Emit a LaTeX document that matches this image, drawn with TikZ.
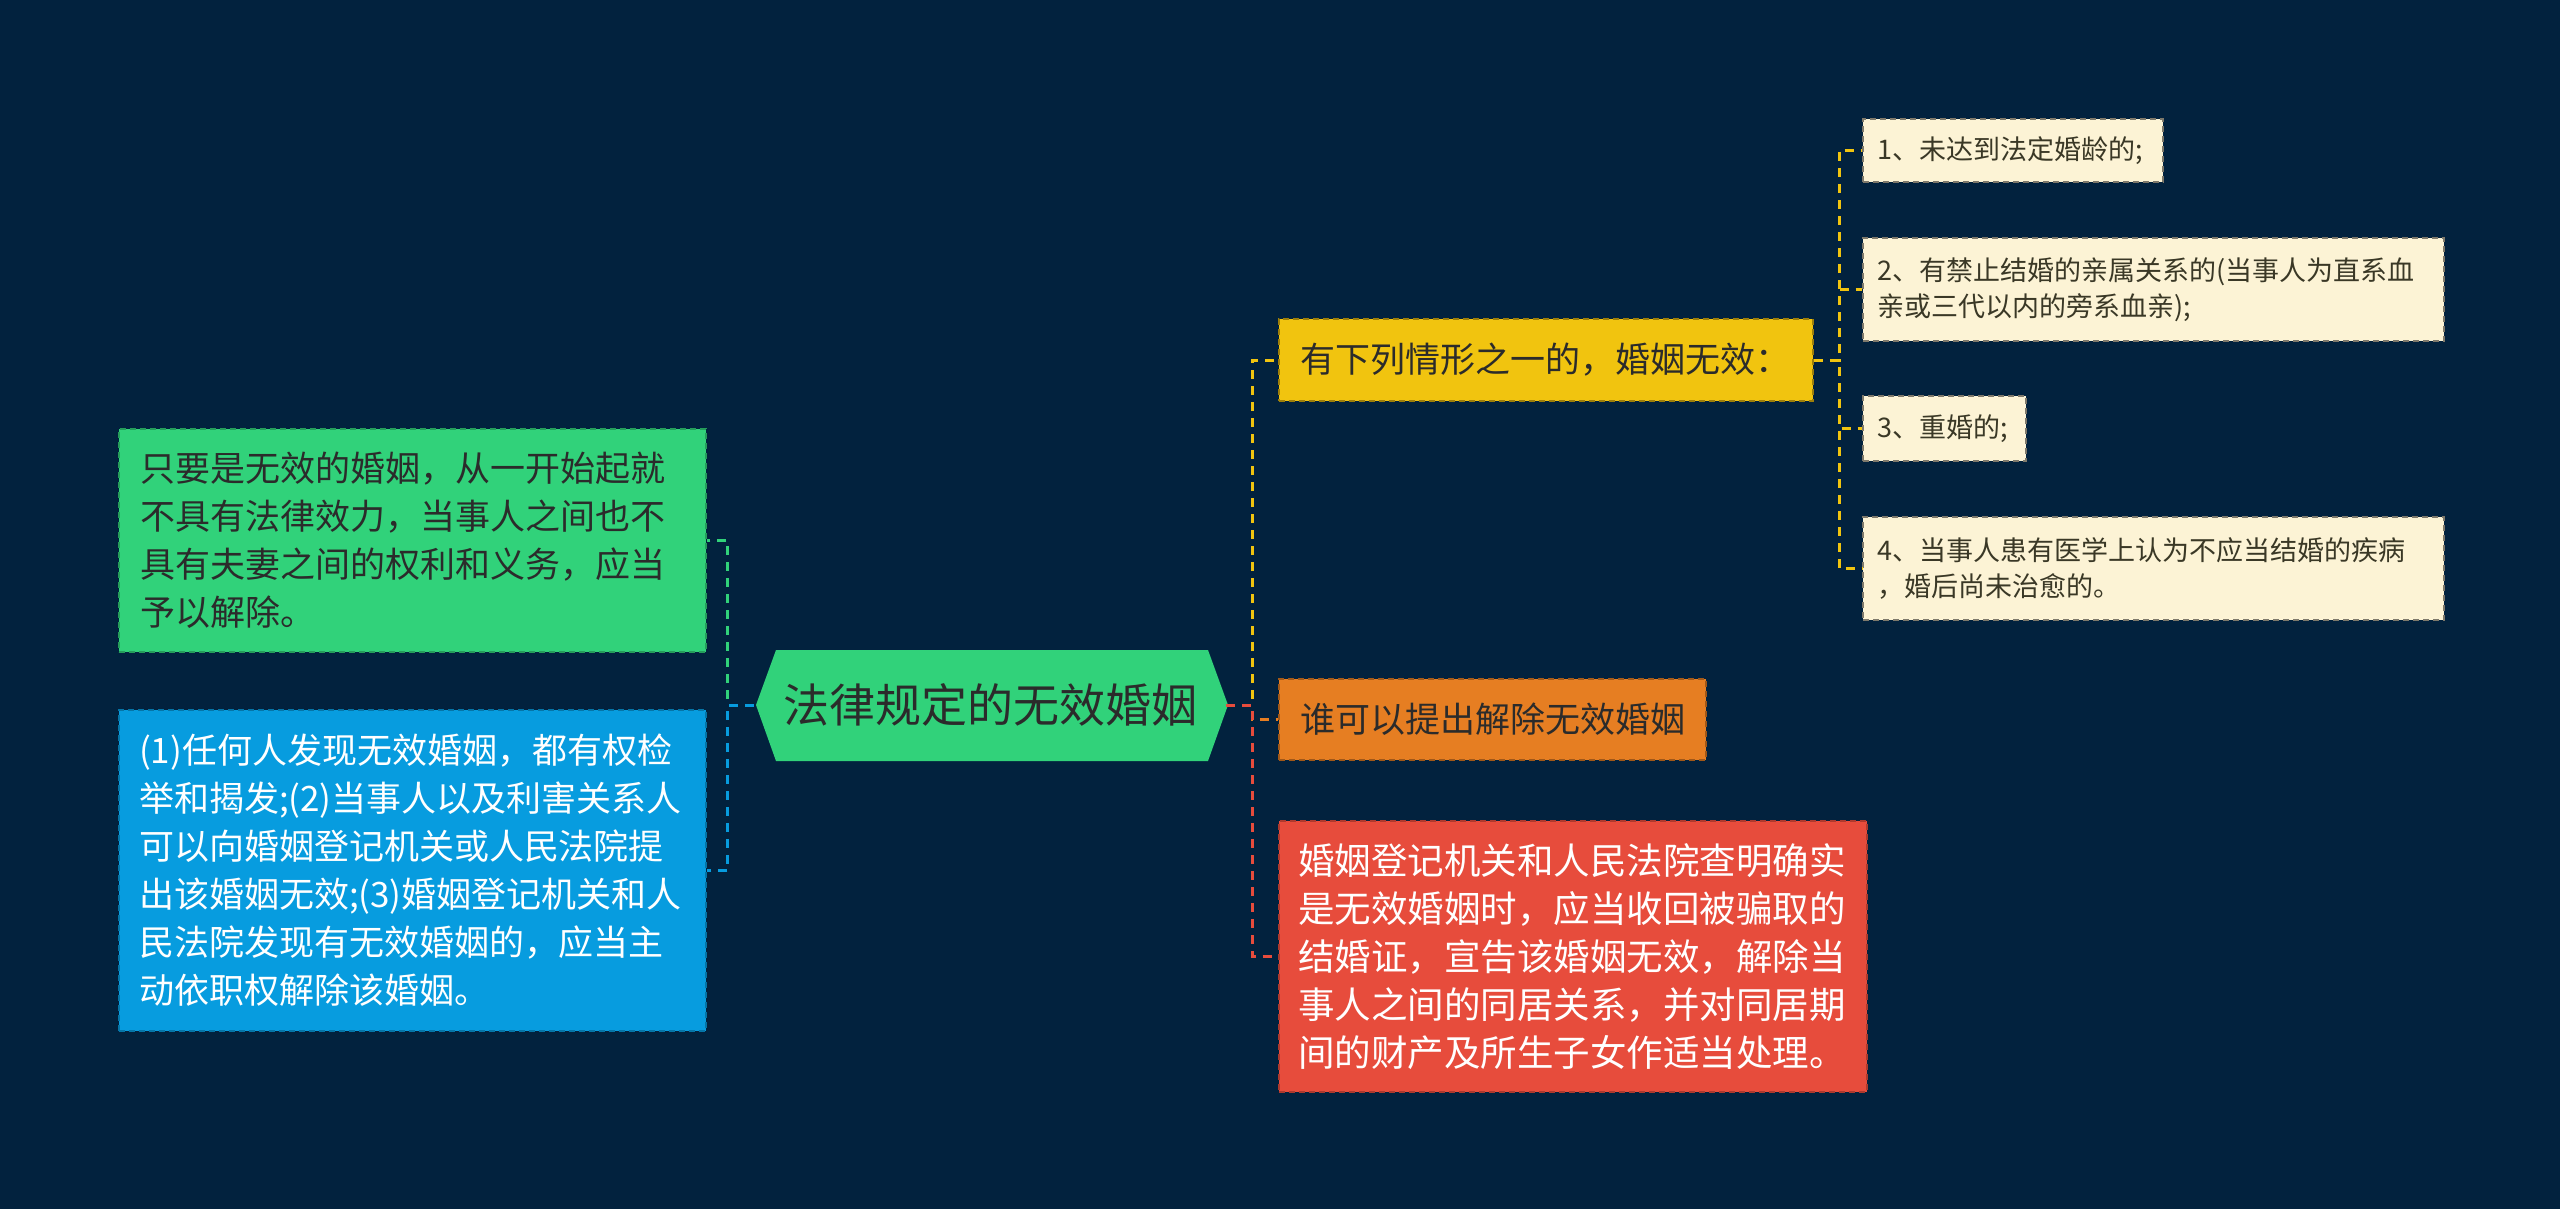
\documentclass[tikz,border=0pt]{standalone}
\usepackage{fontspec}
\newfontfamily\cjk{Noto Sans CJK SC}
\definecolor{bg}{HTML}{02223E}
\definecolor{cgreen}{HTML}{31D27A}
\definecolor{cblue}{HTML}{079CDF}
\definecolor{cyellow}{HTML}{F1C40F}
\definecolor{corange}{HTML}{E67E22}
\definecolor{cred}{HTML}{E74C3C}
\definecolor{ccream}{HTML}{FCF3D5}
\definecolor{cdark}{HTML}{2B2B2B}
\definecolor{ccreamtext}{HTML}{3A3826}
\begin{document}
\begin{tikzpicture}[x=1pt,y=-1pt,
  conn/.style={line width=3pt, dash pattern=on 9pt off 7pt},
  box/.style={anchor=north west, dash pattern=on 6pt off 4pt, line width=2pt, inner ysep=0pt, inner xsep=21pt, align=left},
  f35/.style={font=\cjk\fontsize{35pt}{48pt}\selectfont},
  fyo/.style={font=\cjk\fontsize{35pt}{46pt}\selectfont},
  f36/.style={font=\cjk\fontsize{36.5pt}{48pt}\selectfont},
  f27/.style={font=\cjk\fontsize{27pt}{36pt}\selectfont},
]
\fill[bg] (0,0) rectangle (2560,1209);
\useasboundingbox (0,0) rectangle (2560,1209);

% central node
\fill[cgreen] (756,705) -- (776,650) -- (1208,650) -- (1228,705) -- (1208,761) -- (776,761) -- cycle;
\node[minimum width=472pt, minimum height=111pt, inner sep=0pt, text=cdark, font=\cjk\fontsize{46pt}{50pt}\selectfont] (c) at (990,705) {法律规定的无效婚姻};

% left children
\node[box, f35, fill=cgreen, draw=cgreen!75!black, text=cdark, text width=545pt, minimum height=223pt] (g) at (118,428)
{只要是无效的婚姻，从一开始起就\\不具有法律效力，当事人之间也不\\具有夫妻之间的权利和义务，应当\\予以解除。};
\node[box, f35, fill=cblue, draw=cblue!75!black, text=white, text width=547pt, inner xsep=20pt, minimum height=321pt] (b) at (118,709)
{(1)任何人发现无效婚姻，都有权检\\举和揭发;(2)当事人以及利害关系人\\可以向婚姻登记机关或人民法院提\\出该婚姻无效;(3)婚姻登记机关和人\\民法院发现有无效婚姻的，应当主\\动依职权解除该婚姻。};

% right children
\node[box, fyo, fill=cyellow, draw=cyellow!65!black, text=cdark, text width=492pt, minimum height=82pt] (y) at (1278,318)
{有下列情形之一的，婚姻无效：};
\node[box, fyo, fill=corange, draw=corange!70!black, text=cdark, text width=385pt, minimum height=81pt] (o) at (1278,678)
{谁可以提出解除无效婚姻};
\node[box, f36, fill=cred, draw=cred!75!black, text=white, text width=550pt, inner xsep=19pt, minimum height=271pt] (r) at (1278,820)
{婚姻登记机关和人民法院查明确实\\是无效婚姻时，应当收回被骗取的\\结婚证，宣告该婚姻无效，解除当\\事人之间的同居关系，并对同居期\\间的财产及所生子女作适当处理。};

% grandchildren
\node[box, f27, fill=ccream, draw=ccream!50!black, text=ccreamtext, text width=272pt, inner xsep=14pt, minimum height=63pt] (k1) at (1862,118)
{1、未达到法定婚龄的;};
\node[box, f27, fill=ccream, draw=ccream!50!black, text=ccreamtext, text width=553pt, inner xsep=14pt, minimum height=103pt] (k2) at (1862,237)
{2、有禁止结婚的亲属关系的(当事人为直系血\\亲或三代以内的旁系血亲);};
\node[box, f27, fill=ccream, draw=ccream!50!black, text=ccreamtext, text width=135pt, inner xsep=14pt, minimum height=65pt] (k3) at (1862,395)
{3、重婚的;};
\node[box, f27, fill=ccream, draw=ccream!50!black, text=ccreamtext, text width=553pt, inner xsep=14pt, minimum height=103pt] (k4) at (1862,516)
{4、当事人患有医学上认为不应当结婚的疾病\\，婚后尚未治愈的。};

% connectors
\draw[conn, cgreen] (c.west) -- ++(-26,0) |- (g.east);
\draw[conn, cblue] (c.west) -- ++(-26,0) |- (b.east);
\draw[conn, cyellow] (c.east) -- ++(26,0) |- (y.west);
\draw[conn, corange] (c.east) -- ++(26,0) |- (o.west);
\draw[conn, cred] (c.east) -- ++(26,0) |- (r.west);
\draw[conn, cyellow] (y.east) -- ++(25,0) |- (k1.west);
\draw[conn, cyellow] (y.east) -- ++(25,0) |- (k2.west);
\draw[conn, cyellow] (y.east) -- ++(25,0) |- (k3.west);
\draw[conn, cyellow] (y.east) -- ++(25,0) |- (k4.west);
\end{tikzpicture}
\end{document}
